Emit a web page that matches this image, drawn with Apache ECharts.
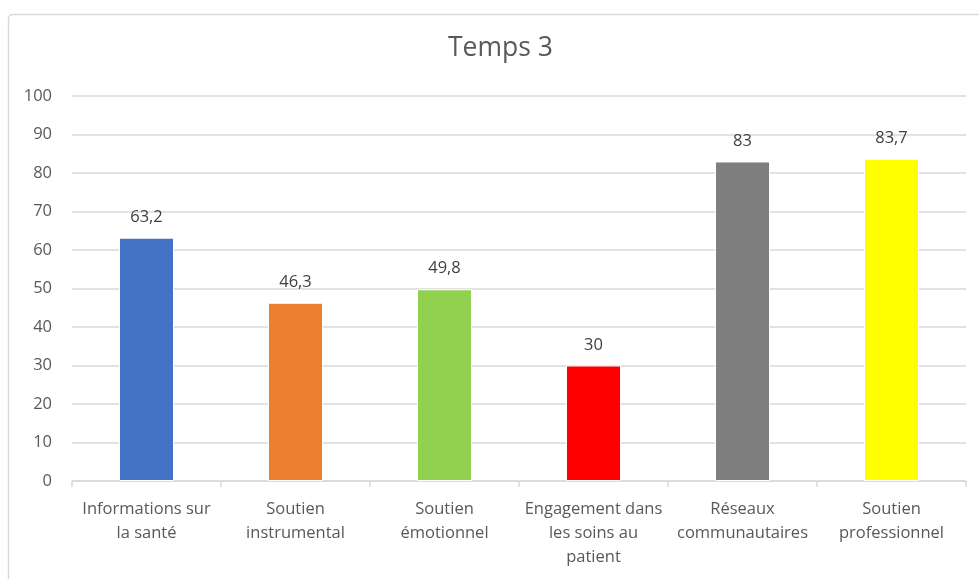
<!DOCTYPE html>
<html>
<head>
<meta charset="utf-8">
<script src="https://cdn.jsdelivr.net/npm/echarts@6/dist/echarts.min.js"></script>
<style>
  html, body { margin: 0; padding: 0; background: #ffffff; }
  #chart { width: 979px; height: 579px; }
</style>
</head>
<body>
<div id="chart"></div>
<script>
// Categories (axis labels), values and bar colours
const categories = [
  'Informations sur\nla santé',
  'Soutien\ninstrumental',
  'Soutien\némotionnel',
  'Engagement dans\nles soins au\npatient',
  'Réseaux\ncommunautaires',
  'Soutien\nprofessionnel'
];
const values = [63.2, 46.3, 49.8, 30, 83, 83.7];
const colors = ['#4472C4', '#ED7D31', '#92D050', '#FF0000', '#7F7F7F', '#FFFF00'];
const yTicks = { min: 0, max: 100, interval: 10 };

const FONT = '"Open Sans", Lato, sans-serif';
const chart = echarts.init(document.getElementById('chart'));

chart.setOption({
  backgroundColor: '#ffffff',
  animation: false,
  graphic: [{
    type: 'rect',
    left: 6, top: 12,
    shape: { width: 990, height: 600, r: 4 },
    style: { fill: 'none', stroke: '#d9d9d9', lineWidth: 1.5 },
    silent: true,
    z: -1
  }],
  title: {
    text: 'Temps 3',
    left: 443,
    top: 30,
    textStyle: { fontFamily: FONT, fontSize: 26.5, fontWeight: 'normal', color: '#595959' }
  },
  grid: { left: 72, right: 13, top: 96, bottom: 98, containLabel: false },
  xAxis: {
    type: 'category',
    data: categories,
    axisLine: { lineStyle: { color: '#d9d9d9', width: 1.5 } },
    axisTick: { show: true, alignWithLabel: false, length: 6, lineStyle: { color: '#d9d9d9', width: 1.5 } },
    axisLabel: {
      interval: 0,
      margin: 16,
      fontFamily: FONT,
      fontSize: 16.5,
      lineHeight: 24,
      color: '#595959'
    }
  },
  yAxis: {
    type: 'value',
    min: yTicks.min, max: yTicks.max, interval: yTicks.interval,
    axisLine: { show: false },
    axisTick: { show: false },
    splitLine: { lineStyle: { color: '#d9d9d9', width: 1.5 } },
    axisLabel: { fontFamily: FONT, fontSize: 16.5, color: '#595959', margin: 20 }
  },
  series: [{
    type: 'bar',
    data: values.map((v, i) => ({ value: v, itemStyle: { color: colors[i] } })),
    barWidth: 55,
    itemStyle: { borderColor: '#ffffff', borderWidth: 1 },
    label: {
      show: true,
      position: 'top',
      distance: 12,
      fontFamily: FONT,
      fontSize: 16.5,
      color: '#404040',
      formatter: p => String(p.value).replace('.', ',')
    }
  }]
});
</script>
</body>
</html>
